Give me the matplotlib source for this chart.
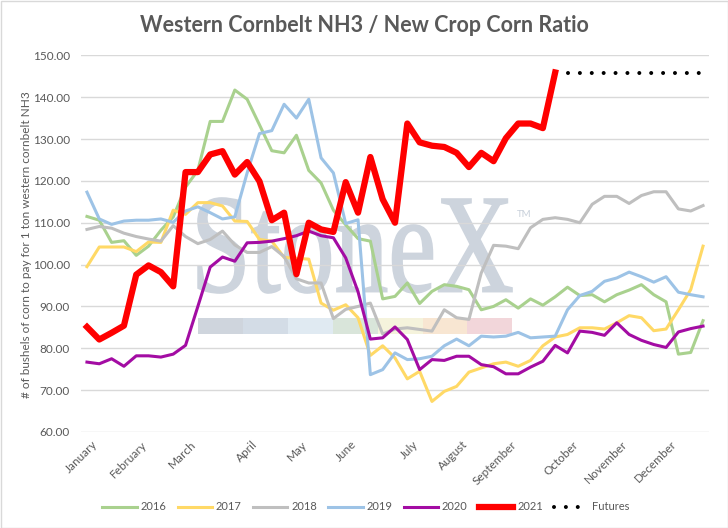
import matplotlib
matplotlib.use("Agg")
import matplotlib.pyplot as plt
from matplotlib.font_manager import FontProperties
from matplotlib.patches import PathPatch, Rectangle
from matplotlib.textpath import TextPath
from matplotlib.transforms import Affine2D, ScaledTranslation

plt.rcParams["font.family"] = ["Lato", "DejaVu Sans"]

# weekly points, 51 per year
months = ["January", "February", "March", "April", "May", "June", "July",
          "August", "September", "October", "November", "December"]
month_idx = [0, 4, 8, 13, 17, 21, 26, 30, 34, 39, 43, 47]

y2016 = [111.5, 110.6, 105.3, 105.7, 102.2, 104.4, 108.2, 111.4,
         118.5, 122.5, 134.2, 134.2, 141.7, 139.5, 133.4, 127.2,
         126.7, 130.9, 122.5, 119.5, 113.0, 109.5, 106.2, 105.6,
         91.8, 92.4, 95.6, 90.7, 93.6, 95.2, 94.8, 94.0,
         89.2, 90.0, 91.6, 89.6, 91.8, 90.3, 92.3, 94.6,
         92.6, 92.8, 91.1, 92.8, 93.9, 95.2, 92.8, 91.1,
         78.6, 79.0, 86.6]
y2017 = [99.5, 104.2, 104.2, 104.2, 103.1, 105.4, 105.3, 113.0,
         112.0, 114.8, 114.8, 114.0, 110.4, 110.3, 106.0, 105.6,
         101.7, 101.5, 101.3, 90.8, 89.1, 90.4, 87.3, 78.3,
         80.6, 77.7, 72.7, 74.5, 67.3, 69.7, 70.9, 74.3,
         75.3, 76.3, 76.7, 75.7, 77.1, 80.6, 82.7, 83.3,
         84.9, 84.9, 84.6, 86.1, 87.8, 87.3, 84.2, 84.6,
         89.2, 94.0, 104.4]
y2018 = [108.4, 109.1, 108.7, 107.5, 106.7, 106.1, 105.6, 109.3,
         106.7, 105.0, 106.0, 108.0, 104.7, 102.9, 102.9, 104.3,
         101.9, 96.6, 95.6, 95.6, 87.1, 89.3, 90.0, 90.8,
         83.4, 84.6, 84.9, 84.5, 84.1, 89.2, 87.3, 86.9,
         98.0, 104.6, 104.4, 103.8, 108.8, 110.8, 111.2, 110.8,
         110.0, 114.4, 116.3, 116.3, 114.6, 116.5, 117.4, 117.4,
         113.3, 112.8, 114.1]
y2019 = [117.3, 110.9, 109.6, 110.4, 110.6, 110.6, 110.9, 110.1,
         112.8, 113.8, 112.4, 110.9, 111.4, 121.9, 131.3, 132.0,
         138.3, 135.0, 139.5, 125.5, 121.9, 109.8, 110.7, 73.7,
         74.9, 78.9, 77.3, 77.5, 78.1, 80.6, 82.2, 80.6,
         82.9, 82.7, 82.9, 83.8, 82.5, 82.7, 82.9, 89.2,
         92.6, 93.6, 96.0, 96.8, 98.2, 97.1, 95.8, 97.1,
         93.4, 92.8, 92.3]
y2020 = [76.7, 76.3, 77.5, 75.7, 78.2, 78.2, 77.9, 78.6,
         80.7, 90.0, 99.4, 101.8, 100.8, 105.2, 105.3, 105.6,
         106.2, 106.9, 108.0, 106.9, 106.4, 101.6, 93.5, 82.2,
         82.5, 85.1, 82.1, 74.9, 77.3, 77.1, 78.1, 78.1,
         76.1, 75.6, 73.9, 73.9, 75.5, 76.9, 80.7, 78.9,
         84.1, 83.8, 83.1, 86.1, 83.3, 81.9, 80.9, 80.2,
         83.9, 84.7, 85.3]
y2021 = [85.1, 82.1, 83.7, 85.4, 97.6, 99.8, 98.2, 94.8,
         122.1, 122.1, 126.3, 127.1, 121.5, 124.5, 119.9, 110.6,
         112.4, 97.7, 110.0, 108.4, 107.8, 119.7, 112.4, 125.7,
         115.6, 110.0, 133.7, 129.2, 128.4, 128.1, 126.7, 123.3,
         126.7, 124.7, 130.2, 133.7, 133.7, 132.6, 145.9]
futures_start = 39
futures = [145.8, 145.8, 145.8, 145.8, 145.8, 145.8,
           145.8, 145.8, 145.8, 145.8, 145.8, 145.8]

series = [("2016", y2016, "#a9d18e"), ("2017", y2017, "#ffd966"),
          ("2018", y2018, "#bfbfbf"), ("2019", y2019, "#9dc3e6"),
          ("2020", y2020, "#a30ca3")]

TXT = "#595959"
W, H = 728, 528

fig = plt.figure(figsize=(W / 100, H / 100), dpi=100)
fig.patch.set_facecolor("white")
ax = fig.add_axes([80.8 / W, 1 - 432 / H, 628.4 / W, 376.7 / H])
ax.patch.set_visible(False)

# faint company watermark behind the plot
tp = TextPath((0, 0), "StoneX", size=100, prop=FontProperties(family="Liberation Serif"))
ext = tp.get_extents()
sx = (512 - 198) / ext.width
sy = (293 - 198) / ext.height
tr = (Affine2D().translate(-ext.x0, -ext.y0).scale(sx / W, sy / H)
      .translate(198 / W, 1 - 293 / H) + fig.transFigure)
fig.add_artist(PathPatch(tp, transform=tr, facecolor="#cdd4dd",
                         edgecolor="#cdd4dd", lw=1.2, zorder=-2))
fig.text(517 / W, 1 - 217 / H, "TM", fontsize=7, color="#c8d0da", zorder=-2)
bar_cols = ["#cfd5dd", "#d3dce6", "#e0eaf2", "#d9e5da", "#f5f3dc", "#f8e6d2", "#f2d6da"]
for k, c in enumerate(bar_cols):
    fig.add_artist(Rectangle(((198 + 44.9 * k) / W, 1 - 334 / H), 44.9 / W, 16 / H,
                             transform=fig.transFigure, facecolor=c,
                             edgecolor="none", zorder=-2))

for name, vals, col in series:
    ax.plot(range(len(vals)), vals, color=col, lw=2.2, label=name,
            solid_joinstyle="round")
ax.plot(range(len(y2021)), y2021, color="#ff0000", lw=4.5, label="2021",
        solid_joinstyle="round")
ax.plot(range(futures_start, futures_start + len(futures)), futures,
        color="black", lw=2.9, linestyle=(0, (0.001, 2.95)),
        dash_capstyle="round", label="Futures")

ax.set_xlim(-0.5, 50.5)
ax.set_ylim(60, 150)
ax.set_yticks(range(60, 151, 10))
ax.set_yticklabels([f"{v:.2f}" for v in range(60, 151, 10)])
ax.grid(axis="y", color="#d9d9d9", lw=1)
ax.set_axisbelow(True)
for s in ax.spines.values():
    s.set_visible(False)
ax.tick_params(axis="both", length=0, colors=TXT, labelsize=8.5)
ax.tick_params(axis="y", pad=8)
ax.set_xticks(month_idx)
ax.set_xticklabels(months, rotation=45, ha="right", va="top", rotation_mode="anchor")
for lab in ax.get_xticklabels():
    lab.set_transform(lab.get_transform() + ScaledTranslation(0.05, -0.02, fig.dpi_scale_trans))

fig.text(27 / W, 1 - 245 / H, "# of bushels of corn to pay for 1 ton western cornbelt NH3",
         rotation=90, ha="center", va="center", fontsize=8.5, color=TXT)
fig.text(0.5, 1 - 25 / H, "Western Cornbelt NH3 / New Crop Corn Ratio",
         ha="center", va="center", fontsize=15.5, fontweight="bold", color=TXT)

fig.legend(loc="center", bbox_to_anchor=(366 / W, 1 - 507 / H), ncol=7,
           frameon=False, fontsize=8, handlelength=3.1, handletextpad=0.35,
           columnspacing=1.0, labelcolor=TXT)

fig.add_artist(Rectangle((0.5 / W, 0.5 / H), (W - 1) / W, (H - 1) / H,
                         transform=fig.transFigure, fill=False,
                         edgecolor="#d9d9d9", lw=1))

fig.savefig("out.png", dpi=100)
